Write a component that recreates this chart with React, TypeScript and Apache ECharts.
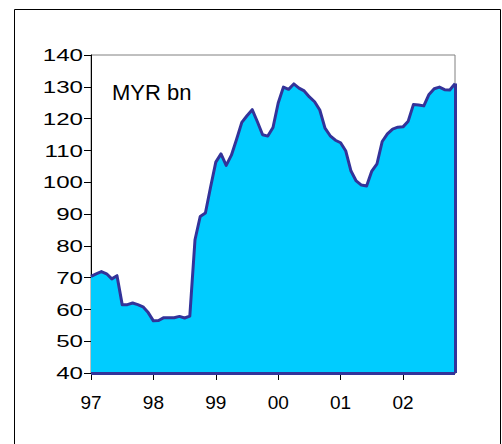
import React, { useEffect, useRef } from "react";
import * as echarts from "echarts";

// Year labels shown on the time axis (one tick per January)
const yearLabels = ["97", "98", "99", "00", "01", "02"];

// Value-axis tick labels
const yTicks = [40, 50, 60, 70, 80, 90, 100, 110, 120, 130, 140];

// Monthly reserves, MYR bn, Jan 1997 – Nov 2002
const reserves = [
  70.4, 71.2, 71.9, 71.2, 69.6, 70.6, 61.5, 61.5, 62.0, 61.5, 60.8, 59.0,
  56.4, 56.5, 57.4, 57.4, 57.4, 57.8, 57.3, 57.9, 81.9, 89.2, 90.3, 98.5,
  106.3, 108.9, 105.3, 108.5, 113.5, 118.8, 120.9, 122.8, 119.0, 114.9, 114.5, 117.2,
  124.9, 129.9, 129.2, 130.9, 129.6, 128.7, 126.8, 125.3, 122.7, 117.0, 114.6, 113.2,
  112.4, 109.8, 103.5, 100.4, 99.1, 98.8, 103.5, 105.8, 112.8, 115.2, 116.7, 117.3,
  117.4, 119.2, 124.4, 124.3, 124.0, 127.6, 129.4, 129.9, 129.1, 129.0, 131.0,
];

const yMin = yTicks[0];
const yMax = yTicks[yTicks.length - 1];
const yStep = yTicks[1] - yTicks[0];

// One category per month: "97-01", "97-02", ...
const months: string[] = [];
yearLabels.forEach((yy) => {
  for (let m = 1; m <= 12; m++) months.push(`${yy}-${String(m).padStart(2, "0")}`);
});
const categories = months.slice(0, reserves.length);

const LINE = "#333399";
const FILL = "#00CCFF";
const FONT = "Liberation Sans, Arial, sans-serif";

export default function App() {
  const ref = useRef<HTMLDivElement>(null);

  useEffect(() => {
    if (!ref.current) return;
    const chart = echarts.init(ref.current, undefined, { renderer: "svg" });
    const first = categories[0];
    const last = categories[categories.length - 1];
    const lastVal = reserves[reserves.length - 1];

    chart.setOption({
      animation: false,
      backgroundColor: "#ffffff",
      grid: {
        left: 91,
        top: 55,
        width: 364,
        height: 318,
        show: true,
        borderColor: "#808080",
        borderWidth: 1,
        backgroundColor: "transparent",
      },
      graphic: [
        {
          id: "frame",
          type: "rect",
          shape: { x: 14.5, y: 9.5, width: 486, height: 445 },
          style: { fill: "none", stroke: "#000000", lineWidth: 1 },
          z: 0,
          silent: true,
        },
        {
          id: "unit",
          type: "text",
          x: 112,
          y: 92,
          style: {
            text: "MYR bn",
            font: `22px ${FONT}`,
            fill: "#000000",
            verticalAlign: "middle",
            align: "left",
          },
          z: 10,
        },
      ],
      xAxis: {
        type: "category",
        data: categories,
        boundaryGap: false,
        axisLine: { show: true, lineStyle: { color: "#000000", width: 1 } },
        axisTick: {
          show: true,
          length: 7,
          interval: (idx: number) => idx % 12 === 0,
          lineStyle: { color: "#000000" },
        },
        axisLabel: {
          interval: (idx: number) => idx % 12 === 0,
          formatter: (v: string) => v.slice(0, 2),
          color: "#000000",
          fontFamily: FONT,
          fontSize: 19,
          margin: 20,
        },
        splitLine: { show: false },
      },
      yAxis: {
        type: "value",
        min: yMin,
        max: yMax,
        interval: yStep,
        axisLine: { show: true, lineStyle: { color: "#000000", width: 1 } },
        axisTick: { show: true, length: 7, lineStyle: { color: "#000000" } },
        // labels are drawn below as wide-set texts next to each tick
        axisLabel: { show: false },
        splitLine: { show: false },
      },
      series: [
        {
          type: "line",
          data: reserves,
          symbol: "none",
          lineStyle: { color: LINE, width: 3, join: "round" },
          areaStyle: { color: FILL, opacity: 1 },
          z: 3,
          markLine: {
            silent: true,
            symbol: "none",
            label: { show: false },
            lineStyle: { color: LINE, width: 3, type: "solid" },
            data: [
              [{ coord: [last, lastVal] }, { coord: [last, yMin] }],
              [{ coord: [last, yMin] }, { coord: [first, yMin] }],
            ],
          },
        },
      ],
    });

    // Value-axis labels placed at the pixel positions of the axis ticks
    const labels = yTicks.map((v) => {
      const py = chart.convertToPixel({ yAxisIndex: 0 }, v) as number;
      return {
        id: `ylab-${v}`,
        type: "text",
        x: 83,
        y: py,
        scaleX: 1.42,
        style: {
          text: String(v),
          font: `17px ${FONT}`,
          fill: "#000000",
          align: "right",
          verticalAlign: "middle",
        },
        z: 10,
        silent: true,
      };
    });
    chart.setOption({ graphic: labels });

    return () => chart.dispose();
  }, []);

  return (
    <div
      ref={ref}
      style={{ position: "absolute", left: 0, top: 0, width: 502, height: 444 }}
    />
  );
}
